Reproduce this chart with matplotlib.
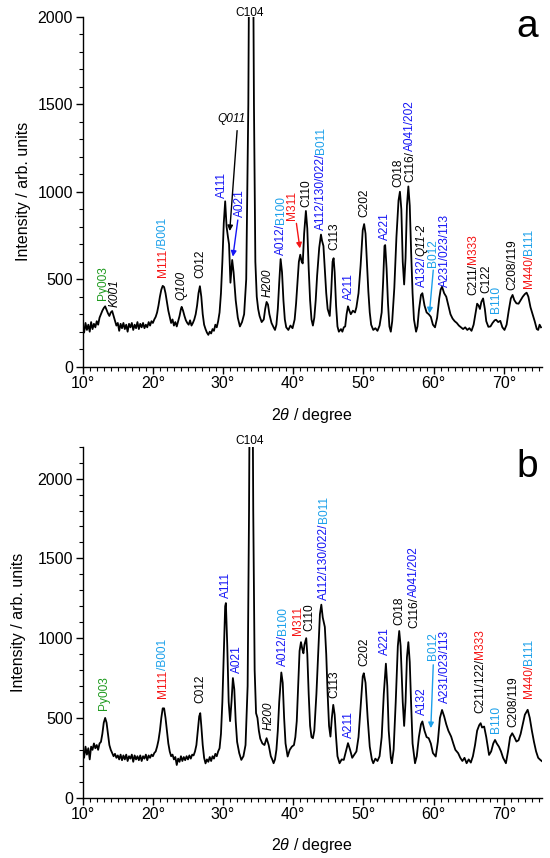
import matplotlib
matplotlib.use('Agg')
from matplotlib import pyplot as plt
from matplotlib.ticker import MultipleLocator, FuncFormatter

plt.rcParams['font.family'] = ['Liberation Sans', 'DejaVu Sans']
plt.rcParams['mathtext.fontset'] = 'custom'
plt.rcParams['mathtext.rm'] = 'Liberation Sans'
plt.rcParams['mathtext.it'] = 'Liberation Sans:italic'
plt.rcParams['xtick.labelsize'] = 11.5
plt.rcParams['ytick.labelsize'] = 11.5
plt.rcParams['axes.labelsize'] = 11.5

K, BL, LB, R, G = 'black', '#1515f5', '#1ba0ea', '#f51515', '#1e9a1e'

# panel a trace: (2theta, intensity)
trace_a = [
    (10.0, 230), (10.2, 195), (10.4, 250), (10.6, 210), (10.8, 240), (11.0, 200),
    (11.2, 255), (11.4, 215), (11.6, 245), (11.8, 225), (12.0, 260), (12.2, 240),
    (12.4, 280), (12.6, 300), (12.8, 320), (13.0, 335), (13.2, 345), (13.4, 325),
    (13.6, 305), (13.8, 290), (14.0, 310), (14.2, 318), (14.4, 290), (14.6, 260),
    (14.8, 235), (15.0, 250), (15.2, 205), (15.4, 245), (15.6, 220), (15.8, 250),
    (16.0, 215), (16.2, 240), (16.4, 200), (16.6, 245), (16.8, 225), (17.0, 250),
    (17.2, 210), (17.4, 240), (17.6, 220), (17.8, 255), (18.0, 215), (18.2, 245),
    (18.4, 225), (18.6, 250), (18.8, 220), (19.0, 240), (19.2, 225), (19.4, 255),
    (19.6, 235), (19.8, 260), (20.0, 250), (20.2, 270), (20.4, 285), (20.6, 310),
    (20.8, 350), (21.0, 400), (21.2, 440), (21.4, 462), (21.6, 455), (21.8, 420),
    (22.0, 370), (22.2, 320), (22.4, 285), (22.6, 250), (22.8, 270), (23.0, 235),
    (23.2, 255), (23.4, 230), (23.6, 260), (23.8, 290), (24.0, 330), (24.1, 342),
    (24.3, 320), (24.5, 290), (24.7, 265), (24.9, 250), (25.1, 240), (25.3, 265),
    (25.5, 235), (25.7, 250), (25.9, 270), (26.1, 300), (26.3, 350), (26.5, 420),
    (26.7, 460), (26.9, 400), (27.1, 300), (27.3, 240), (27.5, 215), (27.7, 195),
    (27.9, 182), (28.1, 200), (28.3, 190), (28.5, 215), (28.7, 205), (28.9, 240),
    (29.1, 225), (29.3, 260), (29.5, 310), (29.7, 420), (29.9, 600), (30.1, 820),
    (30.3, 945), (30.5, 800), (30.7, 740), (30.85, 700), (31.05, 480), (31.3, 610),
    (31.5, 540), (31.8, 380), (32.1, 280), (32.4, 230), (32.7, 255), (33.0, 300),
    (33.3, 500), (33.6, 1500), (33.8, 3000), (34.0, 4200), (34.2, 3000), (34.4, 1500),
    (34.6, 600), (34.8, 400), (35.0, 330), (35.2, 290), (35.5, 255), (35.8, 270),
    (36.0, 330), (36.2, 370), (36.4, 355), (36.6, 300), (36.9, 250), (37.2, 225),
    (37.4, 210), (37.6, 240), (37.8, 330), (38.0, 480), (38.2, 615), (38.4, 540),
    (38.6, 380), (38.8, 270), (39.0, 225), (39.3, 210), (39.6, 235), (39.9, 220),
    (40.2, 270), (40.4, 360), (40.6, 480), (40.8, 600), (41.0, 640), (41.2, 600),
    (41.35, 590), (41.55, 760), (41.8, 890), (42.0, 790), (42.2, 560), (42.4, 380),
    (42.6, 270), (42.8, 235), (43.0, 280), (43.2, 380), (43.4, 520), (43.7, 680),
    (43.95, 755), (44.1, 720), (44.3, 690), (44.5, 560), (44.7, 420), (44.9, 330),
    (45.2, 290), (45.4, 420), (45.6, 600), (45.75, 620), (45.9, 540), (46.1, 350),
    (46.3, 230), (46.5, 200), (46.8, 215), (47.0, 200), (47.2, 225), (47.4, 230),
    (47.6, 300), (47.8, 345), (48.0, 320), (48.2, 300), (48.5, 320), (48.8, 310),
    (49.0, 340), (49.3, 420), (49.6, 580), (49.9, 780), (50.1, 815), (50.3, 760),
    (50.5, 600), (50.7, 430), (50.9, 310), (51.1, 240), (51.4, 210), (51.7, 220),
    (52.0, 205), (52.3, 235), (52.6, 310), (52.8, 480), (53.0, 690), (53.1, 695),
    (53.3, 560), (53.5, 360), (53.7, 230), (53.9, 200), (54.1, 260), (54.4, 450),
    (54.7, 740), (55.0, 950), (55.2, 1000), (55.4, 900), (55.6, 600), (55.8, 470),
    (56.0, 620), (56.2, 920), (56.4, 1030), (56.6, 920), (56.8, 650), (57.0, 420),
    (57.2, 270), (57.5, 200), (57.7, 230), (57.9, 320), (58.2, 410), (58.4, 420),
    (58.7, 350), (59.0, 310), (59.3, 300), (59.6, 285), (59.9, 240), (60.2, 225),
    (60.5, 280), (60.8, 390), (61.0, 440), (61.2, 457), (61.5, 420), (61.8, 400),
    (62.1, 350), (62.4, 300), (62.7, 275), (63.0, 260), (63.3, 250), (63.6, 235),
    (63.9, 225), (64.2, 215), (64.5, 225), (64.8, 210), (65.1, 220), (65.4, 205),
    (65.7, 240), (66.0, 310), (66.2, 360), (66.4, 350), (66.6, 330), (66.8, 370),
    (67.05, 390), (67.3, 330), (67.5, 260), (67.8, 228), (68.1, 230), (68.4, 250),
    (68.7, 265), (68.9, 268), (69.2, 255), (69.5, 262), (69.8, 225), (70.1, 210),
    (70.4, 240), (70.7, 320), (71.0, 390), (71.25, 410), (71.5, 380), (71.8, 362),
    (72.1, 360), (72.4, 380), (72.7, 400), (73.0, 415), (73.25, 423), (73.5, 400),
    (73.8, 340), (74.1, 300), (74.4, 260), (74.7, 215), (74.9, 210), (75.1, 240),
    (75.3, 225),
]

# panel b trace
trace_b = [
    (10.0, 300), (10.2, 250), (10.4, 320), (10.6, 270), (10.8, 310), (11.0, 240),
    (11.2, 320), (11.4, 300), (11.6, 340), (11.8, 310), (12.0, 330), (12.2, 300),
    (12.4, 340), (12.6, 350), (12.8, 400), (13.0, 470), (13.2, 500), (13.4, 470),
    (13.6, 400), (13.8, 330), (14.0, 300), (14.2, 280), (14.4, 260), (14.6, 275),
    (14.8, 250), (15.0, 265), (15.2, 240), (15.4, 270), (15.6, 235), (15.8, 265),
    (16.0, 240), (16.2, 270), (16.4, 230), (16.6, 260), (16.8, 245), (17.0, 270),
    (17.2, 225), (17.4, 265), (17.6, 240), (17.8, 260), (18.0, 235), (18.2, 265),
    (18.4, 230), (18.6, 260), (18.8, 245), (19.0, 270), (19.2, 235), (19.4, 265),
    (19.6, 250), (19.8, 270), (20.0, 260), (20.2, 280), (20.4, 290), (20.6, 320),
    (20.8, 360), (21.0, 420), (21.2, 500), (21.4, 560), (21.6, 560), (21.8, 500),
    (22.0, 420), (22.2, 340), (22.4, 290), (22.6, 260), (22.8, 270), (23.0, 240),
    (23.2, 255), (23.4, 205), (23.6, 245), (23.8, 225), (24.0, 260), (24.2, 230),
    (24.4, 255), (24.6, 235), (24.8, 260), (25.0, 240), (25.2, 265), (25.4, 245),
    (25.6, 270), (25.8, 265), (26.0, 290), (26.2, 330), (26.4, 420), (26.6, 510),
    (26.75, 530), (26.9, 450), (27.1, 330), (27.3, 250), (27.5, 215), (27.7, 240),
    (27.9, 225), (28.1, 255), (28.3, 230), (28.5, 260), (28.7, 245), (28.9, 275),
    (29.1, 260), (29.3, 290), (29.5, 310), (29.7, 400), (29.9, 600), (30.1, 900),
    (30.3, 1200), (30.4, 1220), (30.6, 950), (30.8, 600), (31.0, 480), (31.2, 600),
    (31.4, 750), (31.6, 680), (31.8, 480), (32.0, 350), (32.3, 280), (32.6, 237),
    (32.9, 260), (33.2, 330), (33.5, 700), (33.7, 1800), (33.9, 3500), (34.0, 4500),
    (34.1, 3500), (34.3, 1800), (34.5, 800), (34.7, 530), (34.9, 500), (35.1, 420),
    (35.3, 370), (35.6, 340), (35.9, 330), (36.2, 373), (36.5, 330), (36.8, 260),
    (37.0, 240), (37.2, 216), (37.4, 240), (37.6, 300), (37.8, 420), (38.0, 600),
    (38.3, 785), (38.5, 720), (38.7, 500), (38.9, 340), (39.2, 258), (39.5, 300),
    (39.8, 320), (40.1, 330), (40.3, 380), (40.5, 480), (40.7, 700), (40.9, 920),
    (41.1, 975), (41.3, 930), (41.45, 905), (41.6, 960), (41.85, 1000), (42.0, 900),
    (42.2, 650), (42.4, 450), (42.6, 380), (42.8, 373), (43.0, 420), (43.3, 650),
    (43.6, 950), (43.8, 1150), (44.0, 1210), (44.2, 1130), (44.5, 1070), (44.7, 900),
    (44.9, 650), (45.1, 450), (45.3, 383), (45.5, 500), (45.7, 582), (45.9, 520),
    (46.1, 380), (46.3, 260), (46.6, 216), (46.9, 240), (47.2, 237), (47.5, 290),
    (47.8, 342), (48.1, 300), (48.4, 250), (48.7, 270), (49.0, 290), (49.3, 380),
    (49.6, 570), (49.9, 760), (50.05, 780), (50.3, 720), (50.6, 500), (50.9, 320),
    (51.2, 240), (51.4, 216), (51.7, 245), (52.0, 230), (52.3, 260), (52.6, 380),
    (52.9, 650), (53.2, 840), (53.4, 700), (53.6, 420), (53.9, 250), (54.05, 216),
    (54.3, 300), (54.6, 600), (54.9, 950), (55.1, 1045), (55.3, 950), (55.6, 600),
    (55.8, 450), (56.0, 600), (56.2, 880), (56.4, 975), (56.6, 850), (56.8, 580),
    (57.0, 340), (57.35, 216), (57.6, 260), (57.9, 380), (58.2, 460), (58.4, 478),
    (58.7, 420), (59.0, 380), (59.3, 373), (59.6, 340), (59.9, 280), (60.3, 258),
    (60.6, 350), (60.9, 500), (61.2, 550), (61.5, 510), (61.8, 460), (62.1, 420),
    (62.5, 383), (62.8, 340), (63.1, 300), (63.5, 279), (63.8, 250), (64.1, 230),
    (64.4, 250), (64.7, 216), (65.0, 240), (65.3, 220), (65.6, 260), (65.9, 330),
    (66.2, 420), (66.5, 455), (66.7, 467), (66.9, 440), (67.2, 446), (67.5, 380),
    (67.9, 268), (68.2, 290), (68.5, 340), (68.75, 362), (69.0, 340), (69.3, 320),
    (69.6, 290), (69.9, 250), (70.3, 216), (70.6, 290), (70.9, 380), (71.2, 404),
    (71.5, 380), (71.8, 352), (72.1, 360), (72.4, 400), (72.7, 460), (73.0, 520),
    (73.4, 551), (73.7, 500), (74.0, 420), (74.3, 350), (74.6, 290), (74.9, 250),
    (75.2, 237), (75.4, 230),
]

# vertical peak labels: (2theta, intensity at label base, [(text, colour, style), ...])
labels_a = [
    (12.85, 381, [('Py003', G, 'normal')]),
    (14.6, 343, [('K001', K, 'italic')]),
    (21.4, 514, [('M111', R, 'normal'), ('/B001', LB, 'normal')]),
    (24.1, 381, [('Q100', K, 'italic')]),
    (26.7, 505, [('C012', K, 'normal')]),
    (29.9, 962, [('A111', BL, 'normal')]),
    (32.45, 857, [('A021', BL, 'normal')]),
    (36.3, 400, [('H200', K, 'italic')]),
    (38.3, 638, [('A012/', BL, 'normal'), ('B100', LB, 'normal')]),
    (39.85, 838, [('M311', R, 'normal')]),
    (41.8, 914, [('C110', K, 'normal')]),
    (44.0, 781, [('A112/130/022/', BL, 'normal'), ('B011', LB, 'normal')]),
    (45.9, 667, [('C113', K, 'normal')]),
    (47.95, 381, [('A211', BL, 'normal')]),
    (50.2, 857, [('C202', K, 'normal')]),
    (53.05, 724, [('A221', BL, 'normal')]),
    (55.0, 1029, [('C018', K, 'normal')]),
    (56.65, 1057, [('C116/', K, 'normal'), ('A041/202', BL, 'normal')]),
    (58.3, 457, [('A132/', BL, 'normal'), ('Q11-2', K, 'italic')]),
    (59.95, 571, [('B012', LB, 'normal')]),
    (61.55, 457, [('A231/023/113', BL, 'normal')]),
    (65.6, 410, [('C211/', K, 'normal'), ('M333', R, 'normal')]),
    (67.55, 419, [('C122', K, 'normal')]),
    (68.95, 305, [('B110', LB, 'normal')]),
    (71.2, 438, [('C208/119', K, 'normal')]),
    (73.6, 448, [('M440/', R, 'normal'), ('B111', LB, 'normal')]),
]

labels_b = [
    (13.1, 551, [('Py003', G, 'normal')]),
    (21.5, 624, [('M111', R, 'normal'), ('/B001', LB, 'normal')]),
    (26.7, 593, [('C012', K, 'normal')]),
    (30.4, 1252, [('A111', BL, 'normal')]),
    (32.0, 781, [('A021', BL, 'normal')]),
    (36.5, 425, [('H200', K, 'italic')]),
    (38.5, 823, [('A012/', BL, 'normal'), ('B100', LB, 'normal')]),
    (40.7, 1022, [('M311', R, 'normal')]),
    (42.3, 1043, [('C110', K, 'normal')]),
    (44.4, 1242, [('A112/130/022/', BL, 'normal'), ('B011', LB, 'normal')]),
    (45.9, 624, [('C113', K, 'normal')]),
    (48.0, 373, [('A211', BL, 'normal')]),
    (50.2, 823, [('C202', K, 'normal')]),
    (53.05, 896, [('A221', BL, 'normal')]),
    (55.1, 1085, [('C018', K, 'normal')]),
    (57.2, 1064, [('C116/', K, 'normal'), ('A041/202', BL, 'normal')]),
    (58.3, 519, [('A132', BL, 'normal')]),
    (59.95, 865, [('B012', LB, 'normal')]),
    (61.55, 593, [('A231/023/113', BL, 'normal')]),
    (66.65, 530, [('C211/122/', K, 'normal'), ('M333', R, 'normal')]),
    (68.9, 404, [('B110', LB, 'normal')]),
    (71.3, 446, [('C208/119', K, 'normal')]),
    (73.6, 624, [('M440/', R, 'normal'), ('B111', LB, 'normal')]),
]

# arrows: (tail, head, colour)
arrows_a = [
    ((32.0, 1349), (30.95, 775), K),
    ((32.1, 838), (31.4, 629), BL),
    ((40.45, 819), (40.95, 676), R),
    ((59.95, 552), (59.4, 305), LB),
]
arrows_b = [
    ((59.95, 833), (59.6, 436), LB),
]


def vlabel(ax, x, y, parts):
    prev = None
    for txt, col, sty in parts:
        kw = dict(color=col, style=sty, rotation=90, ha='center', va='bottom',
                  fontsize=8.6)
        if prev is None:
            prev = ax.text(x, y, txt, **kw)
        else:
            prev = ax.annotate(txt, xy=(0.5, 1.0), xycoords=prev, **kw)


def panel(fig, rect, trace, labels, arrows, ymax, c104_y, tag, tag_y, xlabelpad, ylabelpad):
    ax = fig.add_axes(rect)
    xs = [p[0] for p in trace]
    ys = [p[1] for p in trace]
    ax.plot(xs, ys, color='black', lw=1.3)
    ax.set_xlim(10, 75.4)
    ax.set_ylim(0, ymax)
    for s in ('top', 'right'):
        ax.spines[s].set_visible(False)
    for s in ('left', 'bottom'):
        ax.spines[s].set_linewidth(1.0)
    ax.xaxis.set_major_locator(MultipleLocator(10))
    ax.xaxis.set_minor_locator(MultipleLocator(1))
    ax.yaxis.set_major_locator(MultipleLocator(500))
    ax.yaxis.set_minor_locator(MultipleLocator(100))
    ax.xaxis.set_major_formatter(FuncFormatter(lambda v, p: '%d°' % v))
    ax.tick_params(which='major', direction='out', length=5, width=1)
    ax.tick_params(which='minor', direction='out', length=3, width=0.8)
    ax.tick_params(axis='x', pad=1.5)
    ax.tick_params(axis='y', pad=2)
    ax.set_xlabel(r'2$\theta$ / degree', labelpad=xlabelpad)
    ax.set_ylabel('Intensity / arb. units', labelpad=ylabelpad)
    for x, y, parts in labels:
        vlabel(ax, x, y, parts)
    for tail, head, col in arrows:
        ax.annotate('', xy=head, xytext=tail,
                    arrowprops=dict(arrowstyle='-|>', color=col, lw=1.0,
                                    mutation_scale=8, shrinkA=0, shrinkB=0))
    ax.text(33.8, c104_y, 'C104', fontsize=8.6, ha='center', va='center')
    fig.text(527 / 550, 1 - tag_y / 858, tag, fontsize=28, ha='center', va='baseline')
    return ax


fig = plt.figure(figsize=(5.5, 8.58), dpi=100)

ax_a = panel(fig, [82.7 / 550, 1 - 366.7 / 858, 459 / 550, 350 / 858],
             trace_a, labels_a, arrows_a, 2000, 2019, 'a', 37, 11, 5)
ax_a.text(31.2, 1413, 'Q011', fontsize=8.6, style='italic', ha='center', va='center')

ax_b = panel(fig, [82.7 / 550, 1 - 797.7 / 858, 459 / 550, 351 / 858],
             trace_b, labels_b, arrows_b, 2200, 2236, 'b', 477, 10, 8)

fig.savefig('out.png', dpi=100)
